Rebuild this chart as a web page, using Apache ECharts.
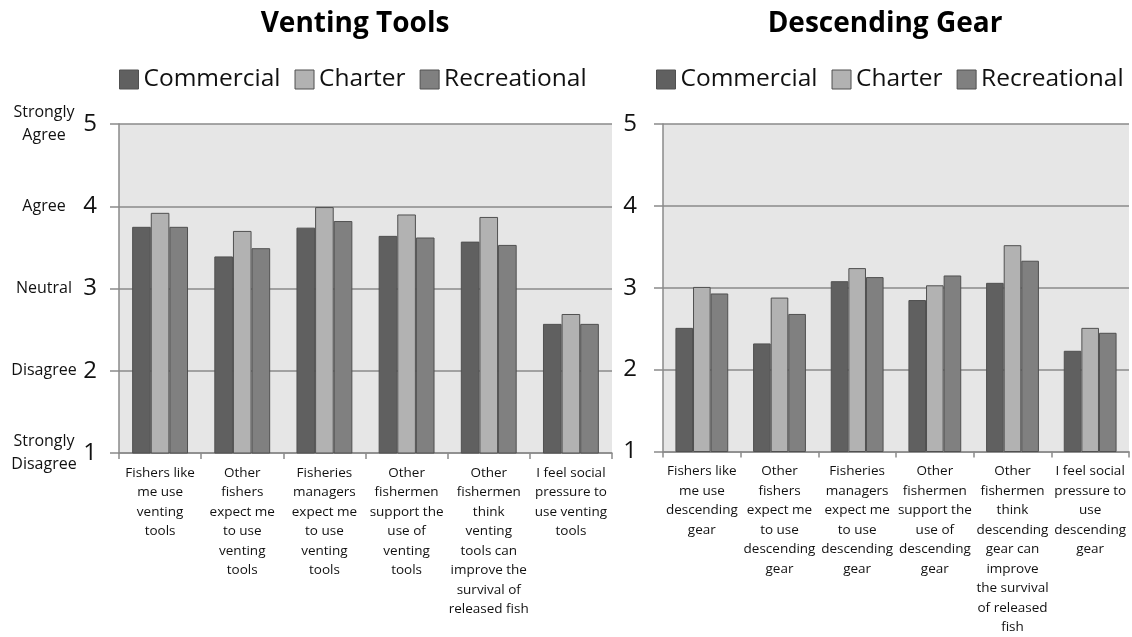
<!DOCTYPE html>
<html lang="en">
<head>
    <meta charset="UTF-8">
    <title>Venting Tools / Descending Gear</title>
    <style>
        body{
            margin: 0;
            background: #fff;
        }
        .box{
            width: 1132px;
            height: 637px;
        }
    </style>
    <script src="https://cdn.jsdelivr.net/npm/echarts@6/dist/echarts.min.js"></script>
</head>
<body>
<div class="box"></div>
</body>
<script>
    // 数据
    var seriesNames = ["Commercial", "Charter", "Recreational"];
    var ventCats = [
        "Fishers like\nme use\nventing\ntools",
        "Other\nfishers\nexpect me\nto use\nventing\ntools",
        "Fisheries\nmanagers\nexpect me\nto use\nventing\ntools",
        "Other\nfishermen\nsupport the\nuse of\nventing\ntools",
        "Other\nfishermen\nthink\nventing\ntools can\nimprove the\nsurvival of\nreleased fish",
        "I feel social\npressure to\nuse venting\ntools"
    ];
    var descCats = [
        "Fishers like\nme use\ndescending\ngear",
        "Other\nfishers\nexpect me\nto use\ndescending\ngear",
        "Fisheries\nmanagers\nexpect me\nto use\ndescending\ngear",
        "Other\nfishermen\nsupport the\nuse of\ndescending\ngear",
        "Other\nfishermen\nthink\ndescending\ngear can\nimprove\nthe survival\nof released\nfish",
        "I feel social\npressure to\nuse\ndescending\ngear"
    ];
    var ventCommercial   = [3.75, 3.39, 3.74, 3.64, 3.57, 2.57];
    var ventCharter      = [3.92, 3.70, 3.99, 3.90, 3.87, 2.69];
    var ventRecreational = [3.75, 3.49, 3.82, 3.62, 3.53, 2.57];
    var descCommercial   = [2.51, 2.32, 3.08, 2.85, 3.06, 2.23];
    var descCharter      = [3.01, 2.88, 3.24, 3.03, 3.52, 2.51];
    var descRecreational = [2.93, 2.68, 3.13, 3.15, 3.33, 2.45];
    var scaleWords = {1: "Strongly\nDisagree", 2: "Disagree", 3: "Neutral", 4: "Agree", 5: "Strongly\nAgree"};

    var colors = ["#606060", "#b2b2b2", "#808080"];
    var font = "Open Sans";

    var chart = echarts.init(document.getElementsByClassName("box")[0]);

    function valueAxis(grid, margin, words) {
        return {
            type: "value", gridIndex: grid, min: 1, max: 5, interval: 1, position: "left",
            axisLine: {show: !words, lineStyle: {color: "#8a8a8a", width: 1.5}},
            axisTick: {show: !words, length: 9, lineStyle: {color: "#8a8a8a", width: 1.5}},
            splitLine: {show: !words, lineStyle: {color: "#8a8a8a", width: 1.5}},
            axisLabel: words ? {
                margin: 75, align: "center", fontFamily: font, fontSize: 16,
                lineHeight: 23, color: "#111",
                formatter: function (v) { return scaleWords[v] || ""; }
            } : {
                margin: margin, fontFamily: font, fontSize: 24, color: "#111"
            }
        };
    }

    function catAxis(grid, cats) {
        return {
            type: "category", gridIndex: grid, data: cats,
            axisLine: {lineStyle: {color: "#8a8a8a", width: 1.5}},
            axisTick: {show: true, length: 6, lineStyle: {color: "#8a8a8a", width: 1.5}},
            axisLabel: {interval: 0, margin: 10, fontFamily: font, fontSize: 13.5,
                lineHeight: 19.5, color: "#111"}
        };
    }

    function bars(name, data, idx, grid) {
        return {
            name: name, type: "bar", data: data,
            xAxisIndex: grid, yAxisIndex: grid === 0 ? 0 : 2,
            barGap: "0%", barCategoryGap: "32%",
            itemStyle: {color: colors[idx], borderColor: "#505050", borderWidth: 1}
        };
    }

    function legendAt(x) {
        return {data: seriesNames, left: x, top: 62, itemWidth: 19, itemHeight: 19, itemGap: 14,
            icon: "rect", textStyle: {fontFamily: font, fontSize: 24.5, color: "#111"},
            itemStyle: {borderColor: "#505050", borderWidth: 1}};
    }

    var option = {
        animation: false,
        title: [
            {text: "Venting Tools", left: 350, top: 5, textAlign: "center",
                textStyle: {fontFamily: font, fontSize: 28, fontWeight: "bold", color: "#000"}},
            {text: "Descending Gear", left: 880, top: 5, textAlign: "center",
                textStyle: {fontFamily: font, fontSize: 28, fontWeight: "bold", color: "#000"}}
        ],
        legend: [legendAt(114), legendAt(651)],
        grid: [
            {left: 119, right: 520, top: 124, bottom: 184, show: true,
                backgroundColor: "#e6e6e6", borderWidth: 0},
            {left: 663, right: 3, top: 124, bottom: 185, show: true,
                backgroundColor: "#e6e6e6", borderWidth: 0}
        ],
        xAxis: [catAxis(0, ventCats), catAxis(1, descCats)],
        yAxis: [
            valueAxis(0, 22, false),
            valueAxis(0, 0, true),
            valueAxis(1, 26, false)
        ],
        series: [
            bars("Commercial", ventCommercial, 0, 0),
            bars("Charter", ventCharter, 1, 0),
            bars("Recreational", ventRecreational, 2, 0),
            bars("Commercial", descCommercial, 0, 1),
            bars("Charter", descCharter, 1, 1),
            bars("Recreational", descRecreational, 2, 1)
        ]
    };
    chart.setOption(option);
</script>
</html>
